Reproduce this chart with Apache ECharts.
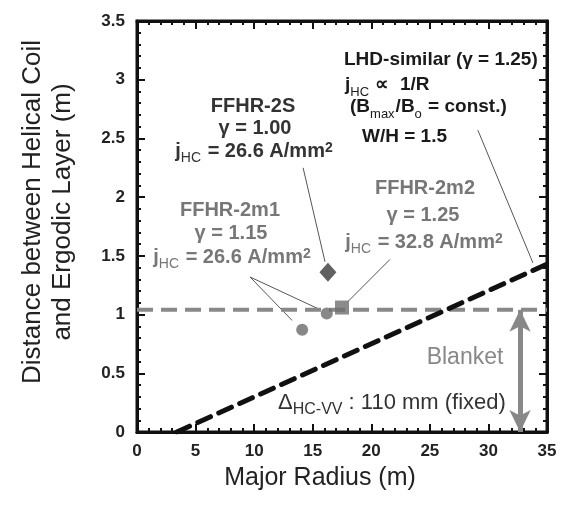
<!DOCTYPE html>
<html>
<head>
<meta charset="utf-8">
<script src="https://cdn.jsdelivr.net/npm/echarts@6/dist/echarts.min.js"></script>
<style>
  html, body { margin: 0; padding: 0; background: #fff; }
  #chart { width: 569px; height: 506px; }
</style>
</head>
<body>
<div id="chart"></div>
<script>
// data
const xTicks = [0, 5, 10, 15, 20, 25, 30, 35]
const yTicks = [0, 0.5, 1, 1.5, 2, 2.5, 3, 3.5]
const ffhr2s = [[16.3, 1.36]]
const ffhr2m2 = [[17.5, 1.06]]
const ffhr2m1 = [[16.2, 1.01], [14.1, 0.87]]
const lhdLine = [[3.4, 0], [35, 1.43]]
const blanketLine = [[0, 1.04], [35, 1.04]]
const arrowX = 32.7
const leaders = [
  [[14.18, 2.25], [16.05, 1.45]],
  [[29.1, 2.57], [33.8, 1.44]],
  [[21.6, 1.47], [18.0, 1.11]],
  [[9.65, 1.32], [15.46, 1.05]],
  [[9.65, 1.32], [13.24, 0.95]]
]

const FONT = '"Liberation Sans", Arial, sans-serif'

const chart = echarts.init(document.getElementById('chart'))

// axes sit on zero of the other axis; the second grid is inverted so its
// zero lands on the top / right edge and gives the inward ticks there
function makeAxis(ticks, interval, position, gridIndex, labelMargin) {
  return {
    type: 'value',
    gridIndex: gridIndex,
    position: position,
    inverse: gridIndex === 1,
    min: ticks[0],
    max: ticks[ticks.length - 1],
    interval: interval,
    axisLine: { lineStyle: { color: '#111', width: 3 } },
    axisTick: { inside: true, length: 8, lineStyle: { color: '#111', width: 2 } },
    minorTick: { show: true, splitNumber: 5, length: 4, lineStyle: { color: '#111', width: 2 } },
    splitLine: { show: false },
    axisLabel: labelMargin
      ? { show: true, margin: labelMargin, fontFamily: FONT, fontSize: 17, fontWeight: 'bold', color: '#222' }
      : { show: false }
  }
}

const rich = {
  b: { fontFamily: FONT, fontWeight: 'bold', fontSize: 20, verticalAlign: 'bottom' },
  s: { fontFamily: FONT, fontWeight: 'normal', fontSize: 14, verticalAlign: 'bottom', padding: [0, 1, -4, 0] },
  p: { fontFamily: FONT, fontWeight: 'bold', fontSize: 14, verticalAlign: 'top' },
  h: { fontFamily: FONT, fontWeight: 'bold', fontSize: 19, verticalAlign: 'bottom' },
  hs: { fontFamily: FONT, fontWeight: 'normal', fontSize: 13, verticalAlign: 'bottom', padding: [0, 1, -4, 0] }
}

function label(text, x, y, color, align) {
  return {
    type: 'text', x: x, y: y, z: 10,
    style: {
      text: text, rich: rich, fill: color,
      font: 'bold 20px ' + FONT,
      textAlign: align || 'center', textVerticalAlign: 'middle'
    }
  }
}

const graphics = [
  {
    type: 'text', x: 320, y: 478, z: 10,
    style: { text: 'Major Radius (m)', fill: '#222', font: '25px ' + FONT, textAlign: 'center', textVerticalAlign: 'middle' }
  },
  {
    type: 'text', x: 48, y: 212, z: 10, rotation: Math.PI / 2,
    style: {
      text: 'Distance between Helical Coil\nand Ergodic Layer (m)', fill: '#222',
      font: '26px ' + FONT, lineHeight: 30, textAlign: 'center', textVerticalAlign: 'middle'
    }
  },
  label('{h|LHD-similar (γ = 1.25)}', 344, 60, '#1a1a1a', 'left'),
  label('{h|j}{hs|HC}{h| ∝  1/R}', 345, 85, '#1a1a1a', 'left'),
  label('{h|(B}{hs|max}{h|/B}{hs|o}{h| = const.)}', 350, 107, '#1a1a1a', 'left'),
  label('{h|W/H = 1.5}', 362, 137, '#1a1a1a', 'left'),
  label('{b|FFHR-2S}', 253, 106, '#333'),
  label('{b|γ = 1.00}', 255, 128, '#333'),
  label('{b|j}{s|HC}{b| = 26.6 A/mm}{p|2}', 254, 151, '#333'),
  label('{b|FFHR-2m2}', 425, 188, '#777'),
  label('{b|γ = 1.25}', 423, 215, '#777'),
  label('{b|j}{s|HC}{b| = 32.8 A/mm}{p|2}', 424, 242, '#777'),
  label('{b|FFHR-2m1}', 230, 210, '#777'),
  label('{b|γ = 1.15}', 231, 233, '#777'),
  label('{b|j}{s|HC}{b| = 26.6 A/mm}{p|2}', 232, 257, '#777'),
  {
    type: 'text', x: 465, y: 358, z: 10,
    style: { text: 'Blanket', fill: '#888', font: '23px ' + FONT, textAlign: 'center', textVerticalAlign: 'middle' }
  },
  {
    type: 'text', x: 278, y: 403, z: 10,
    style: {
      text: '{d|Δ}{ds|HC-VV}{d| : 110 mm (fixed)}',
      fill: '#333', textAlign: 'left', textVerticalAlign: 'middle',
      rich: {
        d: { fontFamily: FONT, fontSize: 22, verticalAlign: 'bottom' },
        ds: { fontFamily: FONT, fontSize: 16, verticalAlign: 'bottom', padding: [0, 0, -4, 0] }
      }
    }
  }
]

const leaderSeries = leaders.map(function (seg) {
  return {
    type: 'line', data: seg, symbol: 'none', silent: true, z: 1,
    lineStyle: { color: '#555', width: 1 }
  }
})

const gridBox = { left: 137, right: 22, top: 21, bottom: 74 }

chart.setOption({
  animation: false,
  grid: [
    Object.assign({ show: true, borderColor: '#111', borderWidth: 3, backgroundColor: 'transparent' }, gridBox),
    Object.assign({}, gridBox)
  ],
  xAxis: [makeAxis(xTicks, 5, 'bottom', 0, 11), makeAxis(xTicks, 5, 'top', 1)],
  yAxis: [makeAxis(yTicks, 0.5, 'left', 0, 12), makeAxis(yTicks, 0.5, 'right', 1)],
  graphic: graphics,
  series: [
    {
      type: 'line', data: blanketLine, symbol: 'none', z: 2,
      lineStyle: { color: '#888', width: 4, type: [16, 8] },
      markLine: {
        silent: true, symbol: ['arrow', 'arrow'], symbolSize: [16, 22],
        label: { show: false },
        lineStyle: { color: '#888', width: 5, type: 'solid' },
        data: [[{ coord: [arrowX, 1.04] }, { coord: [arrowX, 0] }]]
      }
    },
    {
      type: 'line', data: lhdLine, symbol: 'none', z: 3,
      lineStyle: { color: '#111', width: 5, type: [14, 9], cap: 'round' }
    }
  ].concat(leaderSeries).concat([
    {
      type: 'scatter', data: ffhr2s, symbol: 'diamond', symbolSize: [17, 19], z: 5,
      itemStyle: { color: '#3a3a3a' }
    },
    {
      type: 'scatter', data: ffhr2m2, symbol: 'rect', symbolSize: 14, z: 5,
      itemStyle: { color: '#6e6e6e' }
    },
    {
      type: 'scatter', data: ffhr2m1, symbol: 'circle', symbolSize: 12, z: 5,
      itemStyle: { color: '#6a6a6a' }
    }
  ])
})
</script>
</body>
</html>
